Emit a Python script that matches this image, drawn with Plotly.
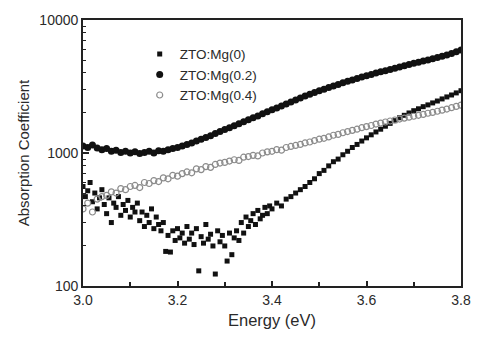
import numpy as np
import plotly.graph_objects as go

# ---- data ----
# ZTO:Mg(0) : dense/noisy region (0.005 eV steps) then 0.01 eV steps
energy_mg0 = np.round(np.concatenate([np.arange(3.0, 3.3999, 0.005),
                                      np.arange(3.40, 3.8001, 0.01)]), 3)
alpha_mg0 = [
    560, 470, 520, 600, 430, 500, 380, 460, 530, 410,
    350, 460, 300, 420, 390, 470, 340, 410, 370, 440,
    330, 390, 360, 420, 310, 360, 280, 340, 300, 380,
    270, 330, 290, 260, 300, 182, 240, 180, 260, 220,
    270, 230, 250, 210, 280, 225, 250, 205, 270, 130,
    235, 210, 290, 225, 245, 200, 123, 260, 215, 240,
    200, 154, 250, 172, 230, 260, 220, 300, 250, 330,
    280, 310, 350, 290, 370, 320, 340, 390, 350, 400,
    380, 420, 400, 450, 470, 500, 530, 560, 600, 640,
    700, 740, 800, 860, 900, 970, 1030, 1100, 1160, 1230,
    1300, 1370, 1440, 1510, 1590, 1670, 1750, 1840, 1920, 2000,
    2080, 2150, 2230, 2300, 2380, 2460, 2550, 2640, 2730, 2830,
    2940,
]

energy = np.round(np.arange(3.0, 3.8001, 0.01), 2)
alpha_mg02 = [
    1130, 1100, 1150, 1090, 1060, 1080, 1030, 1050, 1010, 1030,
    1000, 1020, 990, 1010, 1030, 1000, 1040, 1030, 1060, 1080,
    1100, 1130, 1160, 1190, 1230, 1270, 1310, 1350, 1400, 1450,
    1500, 1550, 1600, 1660, 1720, 1780, 1840, 1900, 1970, 2040,
    2110, 2180, 2260, 2340, 2420, 2500, 2590, 2680, 2760, 2850,
    2940, 3020, 3110, 3190, 3280, 3370, 3460, 3540, 3630, 3720,
    3810, 3900, 3990, 4080, 4160, 4250, 4340, 4440, 4530, 4620,
    4720, 4810, 4910, 5000, 5110, 5220, 5330, 5450, 5600, 5780,
    5950,
]
alpha_mg04 = [
    380, 420, 360, 450, 470, 480, 510, 500, 540, 530,
    560, 570, 550, 600, 590, 620, 610, 650, 640, 680,
    670, 700, 720, 710, 760, 750, 790, 780, 820, 840,
    850, 870, 890, 880, 930, 940, 960, 950, 1000, 1020,
    1030, 1060, 1050, 1100, 1120, 1140, 1160, 1190, 1210, 1240,
    1270, 1290, 1320, 1360, 1380, 1420, 1450, 1480, 1510, 1550,
    1580, 1610, 1650, 1680, 1710, 1740, 1770, 1800, 1830, 1860,
    1890, 1920, 1950, 1990, 2020, 2060, 2100, 2140, 2190, 2240,
    2290,
]

series_names = ["ZTO:Mg(0)", "ZTO:Mg(0.2)", "ZTO:Mg(0.4)"]
x_ticks = [3.0, 3.2, 3.4, 3.6, 3.8]
x_tick_labels = ["3.0", "3.2", "3.4", "3.6", "3.8"]
y_ticks = [100, 1000, 10000]
y_tick_labels = ["100", "1000", "10000"]

FONT = "Liberation Sans, Arial, sans-serif"
TXT = "#2a2a2a"

fig = go.Figure()
fig.add_trace(go.Scatter(
    x=energy_mg0, y=alpha_mg0, mode="markers", name=series_names[0],
    marker=dict(symbol="square", size=5, color="#111111", line=dict(width=0))))
fig.add_trace(go.Scatter(
    x=energy, y=alpha_mg02, mode="markers", name=series_names[1],
    marker=dict(symbol="circle", size=7, color="#111111", line=dict(width=0))))
fig.add_trace(go.Scatter(
    x=energy, y=alpha_mg04, mode="markers", name=series_names[2],
    marker=dict(symbol="circle-open", size=6, color="#8c8c8c", line=dict(width=1.2))))

minor_y = [m * d for d in (100, 1000) for m in range(2, 10)]

fig.update_layout(
    width=483, height=339,
    margin=dict(l=83, r=12, t=16, b=53),
    paper_bgcolor="white", plot_bgcolor="white",
    font=dict(family=FONT, color=TXT, size=14),
    showlegend=True,
    legend=dict(x=0.15, y=0.93, xanchor="left", yanchor="top",
                bgcolor="rgba(0,0,0,0)", font=dict(size=13.5, color=TXT),
                itemsizing="trace", tracegroupgap=0),
    xaxis=dict(range=[3.0, 3.8], tickvals=x_ticks, ticktext=x_tick_labels,
               ticks="inside", ticklen=5, tickwidth=1.5, tickcolor="#222",
               minor=dict(tickvals=[3.1, 3.3, 3.5, 3.7], ticks="inside",
                          ticklen=4, tickwidth=1.5, tickcolor="#222"),
               showline=True, linecolor="#222", linewidth=1.8, mirror=True,
               showgrid=False, zeroline=False,
               title=dict(text="Energy (eV)", font=dict(size=16.5), standoff=8),
               tickfont=dict(size=14)),
    yaxis=dict(type="log", range=[2, 4], tickvals=y_ticks, ticktext=y_tick_labels,
               ticks="inside", ticklen=6, tickwidth=1.5, tickcolor="#222",
               minor=dict(tickvals=minor_y, ticks="inside",
                          ticklen=3, tickwidth=1.2, tickcolor="#222"),
               showline=True, linecolor="#222", linewidth=1.8, mirror=True,
               showgrid=False, zeroline=False,
               title=dict(text="Absorption Coefficient", font=dict(size=15), standoff=6),
               tickfont=dict(size=14)),
)

fig.write_html("out.html")
